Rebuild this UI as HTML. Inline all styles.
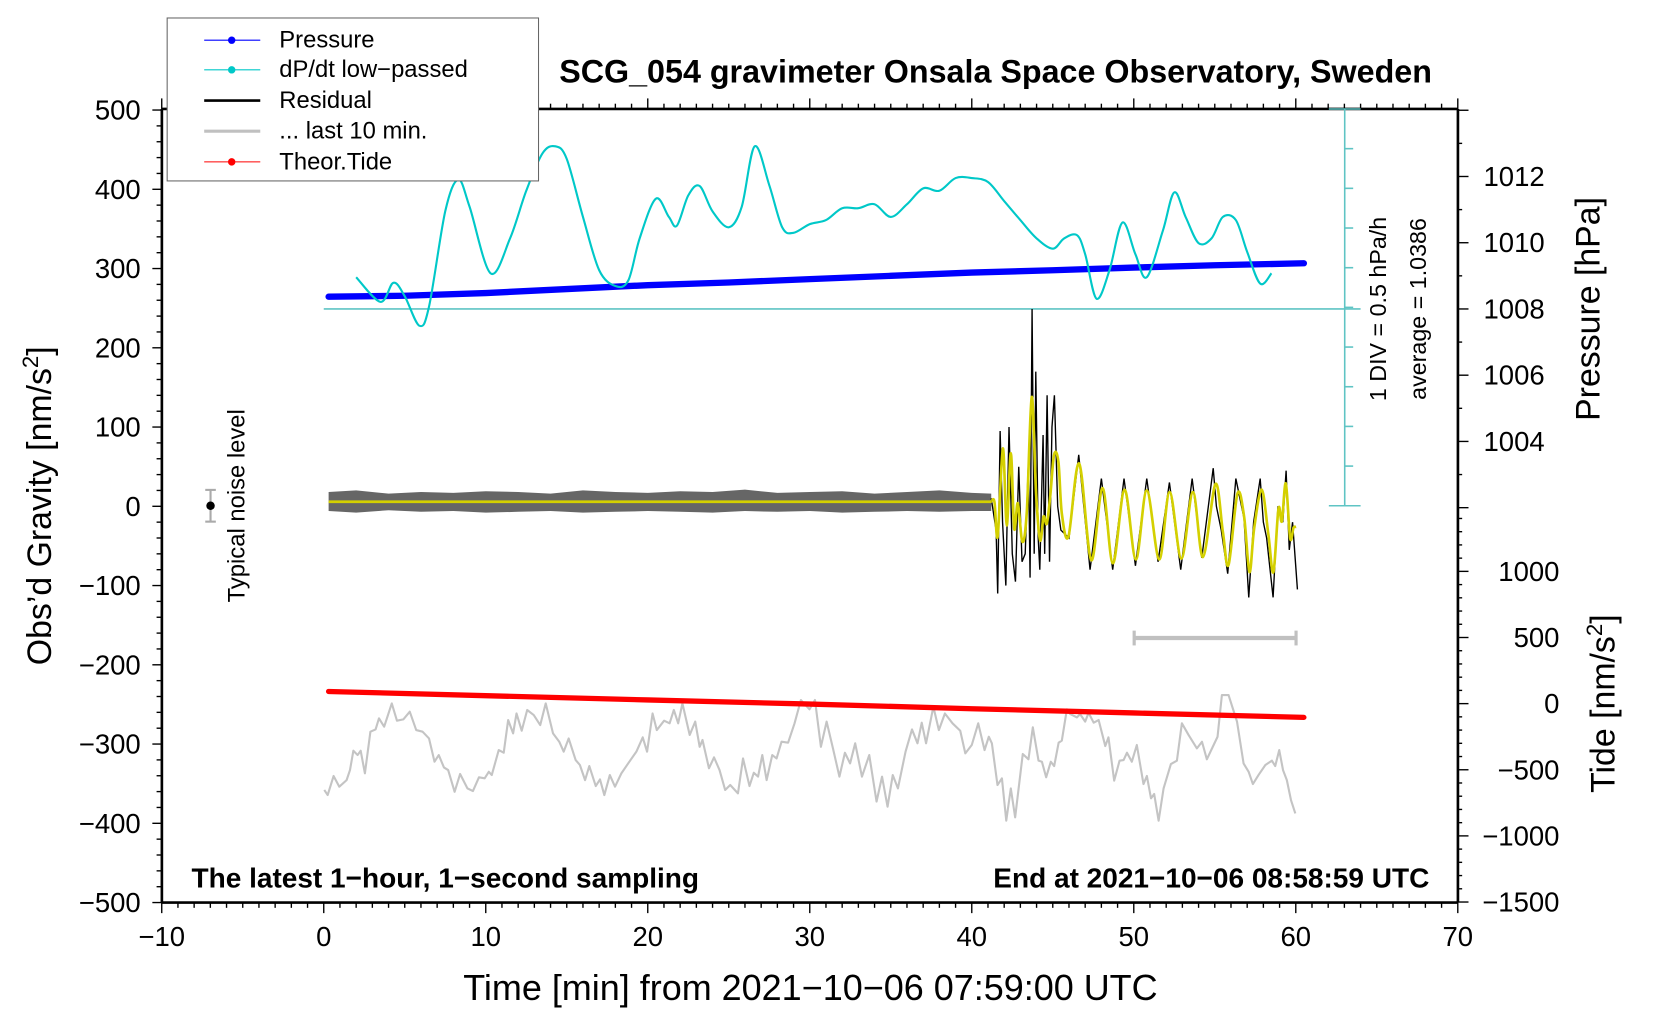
<!DOCTYPE html>
<html><head><meta charset="utf-8"><style>
html,body{margin:0;padding:0;background:#fff;}
svg{display:block;font-family:"Liberation Sans",sans-serif;}
</style></head><body>
<svg id="chart" width="1660" height="1020" viewBox="0 0 1569 964" preserveAspectRatio="none" xmlns="http://www.w3.org/2000/svg">
<rect x="0" y="0" width="1569" height="964" fill="#fff"/>
<g id="static"></g>
<g id="marks"></g>
<g id="legend">
  <rect x="158" y="17" width="351" height="154" fill="#fff" stroke="#666" stroke-width="1"/>
  <g><line x1="193" y1="38" x2="246" y2="38" stroke="#0000ff" stroke-width="1"/><circle cx="219" cy="38" r="3.5" fill="#0000ff"/><text x="264" y="45" font-size="22.5">Pressure</text></g>
  <g><line x1="193" y1="66" x2="246" y2="66" stroke="#00c8c8" stroke-width="1"/><circle cx="219" cy="66" r="3.5" fill="#00c8c8"/><text x="264" y="73" font-size="22.5">dP/dt low−passed</text></g>
  <g><line x1="193" y1="95" x2="246" y2="95" stroke="#000" stroke-width="2.5"/><text x="264" y="102" font-size="22.5">Residual</text></g>
  <g><line x1="193" y1="124" x2="246" y2="124" stroke="#c0c0c0" stroke-width="3"/><text x="264" y="131" font-size="22.5">... last 10 min.</text></g>
  <g><line x1="193" y1="153" x2="246" y2="153" stroke="#ff0000" stroke-width="1"/><circle cx="219" cy="153" r="3.5" fill="#ff0000"/><text x="264" y="160" font-size="22.5">Theor.Tide</text></g>
</g>
<text x="941" y="78" font-size="30.5" font-weight="bold" text-anchor="middle">SCG_054 gravimeter Onsala Space Observatory, Sweden</text>
<text x="181" y="839" font-size="26.5" font-weight="bold">The latest 1−hour, 1−second sampling</text>
<text x="1351" y="839" font-size="26.5" font-weight="bold" text-anchor="end">End at 2021−10−06 08:58:59 UTC</text>
<text x="766" y="945" font-size="34" text-anchor="middle">Time [min] from 2021−10−06 07:59:00 UTC</text>
<text transform="translate(48,478) rotate(-90)" font-size="32" text-anchor="middle">Obs’d Gravity [nm/s<tspan dy="-12" font-size="21">2</tspan><tspan dy="12">]</tspan></text>
<text transform="translate(1512,292) rotate(-90)" font-size="32" text-anchor="middle">Pressure [hPa]</text>
<text transform="translate(1526,665) rotate(-90)" font-size="32" text-anchor="middle">Tide [nm/s<tspan dy="-12" font-size="21">2</tspan><tspan dy="12">]</tspan></text>
<text transform="translate(231,478) rotate(-90)" font-size="22.5" text-anchor="middle">Typical noise level</text>
<text transform="translate(1310,292) rotate(-90)" font-size="22" text-anchor="middle">1 DIV = 0.5 hPa/h</text>
<text transform="translate(1348,292) rotate(-90)" font-size="22" text-anchor="middle">average = 1.0386</text>
<g>
  <line x1="199" y1="463" x2="199" y2="493" stroke="#aaa" stroke-width="2"/>
  <line x1="194" y1="463" x2="204" y2="463" stroke="#aaa" stroke-width="2"/>
  <line x1="194" y1="493" x2="204" y2="493" stroke="#aaa" stroke-width="2"/>
  <circle cx="199" cy="478" r="4" fill="#000"/>
</g>
<g>
  <line x1="1072" y1="603" x2="1225" y2="603" stroke="#c0c0c0" stroke-width="4"/>
  <line x1="1072" y1="596" x2="1072" y2="610" stroke="#c0c0c0" stroke-width="3"/>
  <line x1="1225" y1="596" x2="1225" y2="610" stroke="#c0c0c0" stroke-width="3"/>
</g>
</svg>
<script>
// ---- data ----
const xTicks = [-10,0,10,20,30,40,50,60,70];
const gravTicks = [500,400,300,200,100,0,-100,-200,-300,-400,-500];
const pressTicks = [1004,1006,1008,1010,1012];
const tideTicks = [1000,500,0,-500,-1000,-1500];

const pressT = [0.3,5,10,15,20,25,30,35,40,45,50,55,60.5];
const pressV = [1008.37,1008.40,1008.48,1008.60,1008.72,1008.80,1008.90,1009.00,1009.10,1009.17,1009.25,1009.32,1009.38];

const dpdtT = [2.0,3.5,4.3,5.0,5.9,6.5,7.5,8.3,9.0,10.3,11.5,12.5,13.5,14.3,15.0,16.0,17.0,18.0,18.8,19.5,20.5,21.3,21.8,22.5,23.2,24.0,25.0,25.8,26.6,27.5,28.3,29.0,30.0,31.0,32.0,33.0,34.0,35.0,36.0,37.0,38.0,39.0,40.0,41.0,42.0,43.0,44.0,45.0,45.7,46.5,47.0,47.7,48.5,49.3,50.1,50.8,51.8,52.5,53.2,54.0,54.8,55.5,56.3,57.0,57.8,58.5];
const dpdtV = [0.40,0.09,0.33,0.16,-0.21,0.03,1.23,1.63,1.29,0.45,0.89,1.49,1.96,2.05,1.89,1.16,0.49,0.29,0.36,0.89,1.39,1.16,1.05,1.43,1.55,1.23,1.03,1.29,2.05,1.56,1.03,0.96,1.07,1.12,1.27,1.27,1.32,1.16,1.32,1.52,1.49,1.65,1.65,1.60,1.36,1.12,0.89,0.76,0.89,0.93,0.69,0.13,0.49,1.09,0.69,0.40,0.99,1.47,1.16,0.83,0.89,1.16,1.12,0.72,0.32,0.45];

const noiseT = [0.3,2,4,6,8,10,12,14,16,18,20,22,24,26,28,30,32,34,36,38,40,41.2];
const noiseUp = [18,20,16,18,17,19,18,16,20,18,17,19,18,21,17,18,19,16,18,20,17,16];
const noiseLo = [-6,-8,-5,-7,-6,-8,-7,-6,-8,-7,-6,-7,-8,-6,-7,-6,-8,-7,-6,-7,-6,-6];

const resT = [41.2,41.5,41.6,41.75,41.9,42.1,42.3,42.5,42.7,42.9,43.1,43.3,43.5,43.6,43.72,43.85,43.95,44.1,44.2,44.4,44.5,44.65,44.8,44.95,45.1,45.3,45.5,46.0,46.6,47.3,48.0,48.7,49.4,50.1,50.8,51.5,52.2,52.9,53.6,54.2,54.9,55.1,55.4,55.8,56.3,56.8,57.1,57.4,57.8,58.0,58.2,58.6,58.9,59.2,59.4,59.6,59.8,60.1];
const resV = [10,-30,-110,95,-20,-100,100,-60,-95,50,-70,-60,60,-90,249,-60,170,-40,-80,90,-60,140,-70,100,140,0,-30,-40,65,-80,35,-80,35,-75,35,-70,30,-80,35,-65,48,0,-30,-85,35,-15,-115,-20,35,-20,-40,-115,0,-20,45,-55,-20,-105];

// smoothed residual: flat baseline segment, then oscillation keypoints
const baseT = [0.3,41.2];
const baseV = [5.8,5.8];
const smoothT = [41.2,41.4,41.6,41.92,42.16,42.41,42.62,42.84,43.13,43.40,43.70,43.97,44.22,44.43,44.63,44.84,45.08,45.35,45.56,45.97,46.63,47.37,48.07,48.71,49.43,50.13,50.80,51.57,52.21,52.94,53.65,54.27,55.04,55.50,55.85,56.40,56.81,57.14,57.43,57.90,58.31,58.62,58.93,59.14,59.38,59.65,59.86,60.02];
const smoothV = [5.8,5.8,-38,73,-24,67,-28,4,-45,-5,138,16,-43,-13,-22,12,65,56,-9,-38,54,-68,23,-72,21,-67,20,-67,18,-66,18,-64,28,-32,-74,16,-13,-83,-28,21,-36,-83,-3,-19,29,-40,-27,-26];

const grayT = [0.03,0.24,0.61,0.96,1.41,1.62,1.83,2.09,2.28,2.54,2.88,3.2,3.41,3.73,4.2,4.52,4.91,5.31,5.71,6.1,6.5,6.84,7.1,7.42,7.68,8.08,8.42,8.87,9.21,9.58,9.93,10.19,10.37,10.8,11.11,11.38,11.69,11.9,12.22,12.56,12.96,13.36,13.7,14.15,14.54,14.81,15.12,15.55,15.81,16.13,16.39,16.79,17.05,17.32,17.66,17.98,18.37,18.82,19.3,19.69,19.96,20.3,20.56,21.01,21.35,21.61,21.88,22.14,22.59,22.93,23.2,23.38,23.78,24.09,24.43,24.78,25.09,25.57,25.88,26.28,26.55,26.81,27.07,27.34,27.68,27.95,28.26,28.66,29.06,29.45,29.98,30.32,30.69,31.04,31.43,31.83,32.17,32.49,32.8,33.22,33.67,34.12,34.46,34.8,35.12,35.44,35.91,36.31,36.65,36.91,37.18,37.63,37.97,38.34,38.81,39.29,39.6,40.0,40.4,40.79,41.05,41.24,41.59,41.86,42.13,42.41,42.68,43.15,43.5,43.77,44.12,44.33,44.59,44.88,45.09,45.36,45.56,45.87,46.08,46.49,46.69,47.0,47.21,47.52,47.83,48.24,48.44,48.79,49.12,49.37,49.58,49.88,50.19,50.6,50.81,51.06,51.26,51.53,51.84,52.29,52.66,52.97,53.38,53.9,54.21,54.51,54.93,55.17,55.44,55.85,56.37,56.78,57.09,57.35,57.7,58.12,58.53,58.73,58.98,59.21,59.45,59.7,59.97];
const grayV = [-653,-691,-547,-628,-578,-502,-356,-389,-356,-527,-212,-195,-111,-174,2,-129,-119,-61,-200,-212,-263,-439,-389,-482,-502,-666,-532,-641,-661,-557,-565,-515,-540,-351,-371,-124,-225,-74,-205,-48,-86,-162,2,-225,-288,-363,-263,-426,-464,-578,-472,-623,-573,-691,-540,-628,-527,-446,-363,-255,-363,-74,-200,-129,-149,-48,-149,2,-237,-136,-326,-275,-489,-406,-502,-653,-615,-678,-414,-623,-522,-552,-389,-578,-389,-414,-288,-295,-149,27,-43,27,-326,-136,-338,-552,-371,-452,-300,-552,-389,-741,-552,-779,-540,-641,-363,-195,-300,-144,-300,-23,-200,-74,-149,-205,-376,-313,-149,-351,-250,-300,-615,-565,-885,-641,-860,-381,-421,-179,-431,-439,-557,-439,-472,-295,-280,-43,-79,-104,-79,-136,-69,-144,-124,-321,-255,-582,-431,-426,-371,-439,-313,-608,-547,-716,-683,-885,-641,-457,-431,-149,-237,-338,-288,-421,-313,-250,65,65,-136,-452,-515,-608,-540,-464,-431,-472,-351,-502,-578,-729,-830];

const tideT = [0.3,10,20,30,40,50,60.5];
const tideV = [92,60,28,-3,-38,-70,-104];

// ---- axes (displayed coords) ----
const X0=153, X1=1378, Y0=103, Y1=853;
function xS(t){ return 306 + t*15.3125; }
function yG(v){ return 478.5 - v*0.749; }
function yP(p){ return 292 - (p-1008)*31.3; }
function yT(v){ return 665 - v*0.125; }
function yD(v){ return 292 - v*75; }

const NS='http://www.w3.org/2000/svg';
function mk(tag, attrs, parent){
  const e=document.createElementNS(NS,tag);
  for(const k in attrs) e.setAttribute(k,attrs[k]);
  parent.appendChild(e); return e;
}
const st=document.getElementById('static');
const mg=document.getElementById('marks');
function neg(v){ return v<0 ? '\u2212'+(-v) : String(v); }

const frame=mk('g',{},st);


mk('line',{x1:X0,y1:Y0,x2:X1,y2:Y0,stroke:'#000','stroke-width':2.5},frame);
mk('line',{x1:X0,y1:Y1,x2:X1,y2:Y1,stroke:'#000','stroke-width':2.5},frame);
mk('line',{x1:X0,y1:Y0,x2:X0,y2:Y1,stroke:'#000','stroke-width':2.5},frame);
mk('line',{x1:X1,y1:Y0,x2:X1,y2:Y1,stroke:'#000','stroke-width':2.5},frame);

const xt=mk('g',{stroke:'#000','stroke-width':1.3},st);


for(let m=-10;m<=70;m++){
  const big=(m%10===0);
  const L=big?10:5;
  mk('line',{x1:xS(m),y1:Y1,x2:xS(m),y2:Y1+L},xt);
  mk('line',{x1:xS(m),y1:Y0,x2:xS(m),y2:Y0-L},xt);
}
xTicks.forEach(v=>{
  const t=mk('text',{x:xS(v),y:Y1+41,'font-size':26,'text-anchor':'middle'},st);
  
  
  t.textContent=neg(v);
});
const lt=mk('g',{stroke:'#000','stroke-width':1.3},st);


for(let v=-500;v<=500;v+=20){
  const big=(v%100===0);
  mk('line',{x1:X0,y1:yG(v),x2:X0-(big?9:5),y2:yG(v)},lt);
}
gravTicks.forEach(v=>{
  const t=mk('text',{x:X0-20,y:yG(v)+9,'font-size':26,'text-anchor':'end'},st);
  
  
  t.textContent=neg(v);
});
const pt=mk('g',{stroke:'#000','stroke-width':1.3},st);


for(let p=1002;p<=1014;p++){
  const big=(p%2===0);
  if(yP(p)<Y0-1) continue;
  mk('line',{x1:X1,y1:yP(p),x2:X1+(big?10:4),y2:yP(p)},pt);
}
pressTicks.forEach(v=>{
  const t=mk('text',{x:1460,y:yP(v)+9,'font-size':26,'text-anchor':'end'},st);
  
  
  t.textContent=String(v);
});
const tt=mk('g',{stroke:'#000','stroke-width':1.3},st);


for(let v=-1500;v<=1400;v+=100){
  const big=(v%500===0);
  mk('line',{x1:X1,y1:yT(v),x2:X1+(big?10:4),y2:yT(v)},tt);
}
tideTicks.forEach(v=>{
  const t=mk('text',{x:1474,y:yT(v)+9,'font-size':26,'text-anchor':'end'},st);
  
  
  t.textContent=neg(v);
});
const cb=mk('g',{stroke:'#5fc4c4','stroke-width':1.5},st);


mk('line',{x1:1271,y1:Y0,x2:1271,y2:478},cb);
mk('line',{x1:1256,y1:Y0,x2:1286,y2:Y0},cb);
mk('line',{x1:1256,y1:478,x2:1286,y2:478},cb);
for(let i=1;i<10;i++){ const y=Y0+i*37.5; mk('line',{x1:1271,y1:y,x2:1279,y2:y},cb); }
const zl=mk('line',{x1:306,y1:yD(0),x2:1286,y2:yD(0),stroke:'#5fc4c4','stroke-width':1.5},st);



function pts(T,V,fy){ return T.map((t,i)=>xS(t).toFixed(1)+','+fy(V[i]).toFixed(1)).join(' '); }
function smoothPath(T,V,fy){
  const P=T.map((t,i)=>[xS(t),fy(V[i])]);
  let d='M'+P[0][0]+','+P[0][1];
  for(let i=0;i<P.length-1;i++){
    const p0=P[Math.max(0,i-1)],p1=P[i],p2=P[i+1],p3=P[Math.min(P.length-1,i+2)];
    const c1=[p1[0]+(p2[0]-p0[0])/6,p1[1]+(p2[1]-p0[1])/6];
    const c2=[p2[0]-(p3[0]-p1[0])/6,p2[1]-(p3[1]-p1[1])/6];
    d+=' C'+c1[0].toFixed(1)+','+c1[1].toFixed(1)+' '+c2[0].toFixed(1)+','+c2[1].toFixed(1)+' '+p2[0].toFixed(1)+','+p2[1].toFixed(1);
  }
  return d;
}

const g1=mk('polyline',{points:pts(grayT,grayV,yT),fill:'none',stroke:'#c4c4c4','stroke-width':2,'stroke-linejoin':'round'},mg);


const td=mk('polyline',{points:pts(tideT,tideV,yT),fill:'none',stroke:'#ff0000','stroke-width':5,'stroke-linecap':'round'},mg);


let bp=noiseT.map((t,i)=>xS(t).toFixed(1)+','+yG(noiseUp[i]).toFixed(1));
for(let i=noiseT.length-1;i>=0;i--) bp.push(xS(noiseT[i]).toFixed(1)+','+yG(noiseLo[i]).toFixed(1));
const nb=mk('polygon',{points:bp.join(' '),fill:'#000','fill-opacity':0.6},mg);


const rl=mk('polyline',{points:pts(resT,resV,yG),fill:'none',stroke:'#000','stroke-width':1.3},mg);


const bl=mk('polyline',{points:pts(baseT,baseV,yG),fill:'none',stroke:'#d4d000','stroke-width':2.5},mg);


const yl=mk('path',{d:smoothPath(smoothT,smoothV,yG),fill:'none',stroke:'#d4d000','stroke-width':2.5},mg);


const pl=mk('polyline',{points:pts(pressT,pressV,yP),fill:'none',stroke:'#0000ff','stroke-width':6,'stroke-linecap':'round'},mg);


const dl=mk('path',{d:smoothPath(dpdtT,dpdtV,yD),fill:'none',stroke:'#00c8c8','stroke-width':2},mg);


</script>
</body></html>
